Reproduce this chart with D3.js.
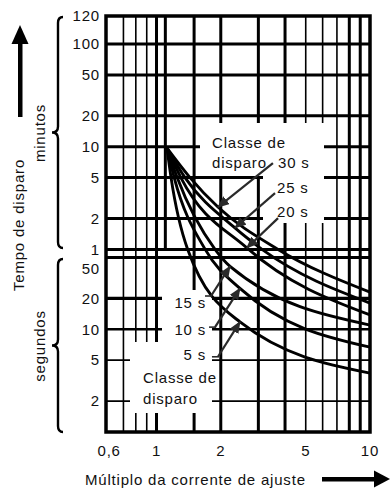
<!DOCTYPE html>
<html>
<head>
<meta charset="utf-8">
<script src="https://cdn.jsdelivr.net/npm/d3@7"></script>
<style>
  body { margin: 0; background: #fff; }
  svg text { font-family: "Liberation Sans", Arial, sans-serif; font-size: 15px; letter-spacing: 0.8px; fill: #111; }
</style>
</head>
<body>
<svg id="chart" width="390" height="492"></svg>
<script>
// grid positions (multiple of the setting current)
var xGridThin = [0.7, 0.8, 0.9, 5, 6, 7];
var xGridThick = [1, 1.5, 2, 3, 4, 8, 9];
var xGridMinutesOnly = [1.1];
var xTickLabels = [0.6, 1, 2, 5, 10];
// time ticks
var minuteTicks = [100, 50, 20, 10, 5, 2, 1];
var secondTicks = [50, 20, 10, 5, 2];

// trip class curves: [multiple, trip time in seconds]
var classNames = ["30 s", "25 s", "20 s", "15 s", "10 s", "5 s"];
var class30 = [[1.12, 580], [1.435, 300], [1.94, 155], [3.71, 60], [10, 23]];
var class25 = [[1.12, 580], [1.36, 300], [2.33, 97], [3.12, 60], [10, 18]];
var class20 = [[1.12, 580], [1.30, 300], [2.65, 62], [10, 13.8]];
var class15 = [[1.12, 580], [1.25, 300], [1.88, 60], [2.21, 41], [10, 11]];
var class10 = [[1.12, 580], [1.21, 300], [1.69, 60], [2.46, 25], [10, 6.7]];
var class5 = [[1.12, 580], [1.17, 300], [1.40, 60], [2.46, 11.8], [10, 3.75]];
var curves = [class30, class25, class20, class15, class10, class5];

// where each label arrow starts (same units as the curves); tip is a curve point
var arrowTails = [[3.51, 416], [3.59, 212], [3.71, 121], [1.80, 21.1], [1.88, 10.5], [1.94, 5.4]];
var arrowTips = [class30[2], class25[2], class20[2], class15[3], class10[3], class5[3]];

(function() {
  var svg = d3.select("#chart");
  var left = 106, right = 370, bottom = 432, plotTop = 16;

  var x = d3.scaleLog().domain([0.58, 10]).range([left, right]);
  var y = d3.scaleLog().domain([1, 6000]).range([bottom, 44]);

  var grid = svg.append("g");

  // vertical grid
  grid.selectAll("line.vthin").data(xGridThin).enter().append("line")
      .attr("x1", d => x(d)).attr("x2", d => x(d))
      .attr("y1", plotTop).attr("y2", bottom)
      .attr("stroke", "#000").attr("stroke-width", 1.6);
  grid.selectAll("line.vthick").data(xGridThick).enter().append("line")
      .attr("x1", d => x(d)).attr("x2", d => x(d))
      .attr("y1", plotTop).attr("y2", bottom)
      .attr("stroke", "#000").attr("stroke-width", 3);
  grid.selectAll("line.vmin").data(xGridMinutesOnly).enter().append("line")
      .attr("x1", d => x(d)).attr("x2", d => x(d))
      .attr("y1", plotTop).attr("y2", y(60))
      .attr("stroke", "#000").attr("stroke-width", 3);

  // horizontal grid
  grid.selectAll("line.hmin").data(minuteTicks).enter().append("line")
      .attr("x1", left).attr("x2", right)
      .attr("y1", d => y(d * 60)).attr("y2", d => y(d * 60))
      .attr("stroke", "#000").attr("stroke-width", 3);
  grid.selectAll("line.hsec").data(secondTicks).enter().append("line")
      .attr("x1", left).attr("x2", right)
      .attr("y1", d => y(d)).attr("y2", d => y(d))
      .attr("stroke", "#000")
      .attr("stroke-width", d => d >= 20 ? 3.2 : (d == 10 ? 2.4 : 1.8));

  // white areas that hold the class labels
  var boxes = [
    [[200, 123], [324, 123], [324, 223], [263, 223], [263, 176], [200, 176]],
    [[130, 342], [162, 342], [162, 290], [212, 290], [212, 413], [130, 413]]
  ];
  svg.selectAll("polygon.box").data(boxes).enter().append("polygon")
      .attr("points", d => d.join(" "))
      .attr("fill", "#fff");

  // frame
  svg.append("rect")
      .attr("x", left).attr("y", plotTop)
      .attr("width", right - left).attr("height", bottom - plotTop)
      .attr("fill", "none").attr("stroke", "#000").attr("stroke-width", 3.5);

  // curves
  var line = d3.line()
      .x(d => x(d[0])).y(d => y(d[1]))
      .curve(d3.curveMonotoneX);
  svg.selectAll("path.trip").data(curves).enter().append("path")
      .attr("d", line)
      .attr("fill", "none").attr("stroke", "#000").attr("stroke-width", 2.9);

  // label arrows
  svg.append("defs").append("marker")
      .attr("id", "head").attr("markerUnits", "userSpaceOnUse")
      .attr("markerWidth", 12).attr("markerHeight", 10)
      .attr("refX", 11).attr("refY", 5).attr("orient", "auto")
    .append("path").attr("d", "M0,0L12,5L0,10Z").attr("fill", "#2a2a2a");

  svg.selectAll("line.arrow").data(arrowTails).enter().append("line")
      .attr("x1", d => x(d[0])).attr("y1", d => y(d[1]))
      .attr("x2", (d, i) => x(arrowTips[i][0])).attr("y2", (d, i) => y(arrowTips[i][1]))
      .attr("stroke", "#2a2a2a").attr("stroke-width", 2.2)
      .attr("marker-end", "url(#head)");
  // little foot under the lower arrows
  svg.selectAll("line.foot").data(arrowTails.slice(3)).enter().append("line")
      .attr("x1", d => x(d[0]) - 6).attr("x2", d => x(d[0]) + 1)
      .attr("y1", d => y(d[1])).attr("y2", d => y(d[1]))
      .attr("stroke", "#2a2a2a").attr("stroke-width", 1.6);

  // class labels
  svg.append("text").attr("x", 212).attr("y", 148).text("Classe de");
  svg.append("text").attr("x", 212).attr("y", 168).text("disparo");
  svg.append("text").attr("x", 143).attr("y", 383).text("Classe de");
  svg.append("text").attr("x", 143).attr("y", 404).text("disparo");
  var labelPos = [[278, 168, "start"], [277, 193, "start"], [277, 217, "start"],
                  [206, 308, "end"], [206, 335, "end"], [206, 360, "end"]];
  svg.selectAll("text.cls").data(classNames).enter().append("text")
      .attr("x", (d, i) => labelPos[i][0]).attr("y", (d, i) => labelPos[i][1])
      .attr("text-anchor", (d, i) => labelPos[i][2])
      .text(d => d);

  // y tick labels
  svg.append("text").attr("x", 100).attr("y", plotTop).attr("dy", "0.35em")
      .attr("text-anchor", "end").text("120");
  svg.selectAll("text.tmin").data(minuteTicks).enter().append("text")
      .attr("x", 100).attr("y", d => y(d * 60)).attr("dy", "0.35em")
      .attr("text-anchor", "end").text(d => d);
  svg.selectAll("text.tsec").data(secondTicks).enter().append("text")
      .attr("x", 100).attr("y", d => y(d) + (d == 50 ? 11 : 0)).attr("dy", "0.35em")
      .attr("text-anchor", "end").text(d => d);

  // x tick labels
  svg.selectAll("text.tx").data(xTickLabels).enter().append("text")
      .attr("x", d => x(d)).attr("y", 456)
      .attr("text-anchor", "middle")
      .text(d => String(d).replace(".", ","));

  // axis titles
  svg.append("text").attr("x", 85).attr("y", 485).text("Múltiplo da corrente de ajuste");
  svg.append("text").attr("transform", "translate(19,225) rotate(-90)")
      .attr("text-anchor", "middle").attr("dy", "0.35em").text("Tempo de disparo");
  svg.append("text").attr("transform", "translate(40,133) rotate(-90)")
      .attr("text-anchor", "middle").attr("dy", "0.35em").text("minutos");
  svg.append("text").attr("transform", "translate(40,346) rotate(-90)")
      .attr("text-anchor", "middle").attr("dy", "0.35em").text("segundos");

  // braces
  function brace(x0, y0, y1, tip) {
    var m = (y0 + y1) / 2, r = 6;
    return "M" + (x0 + 5) + "," + y0 + "Q" + x0 + "," + y0 + " " + x0 + "," + (y0 + r) +
           "L" + x0 + "," + (m - r) + "Q" + x0 + "," + m + " " + tip + "," + m +
           "Q" + x0 + "," + m + " " + x0 + "," + (m + r) +
           "L" + x0 + "," + (y1 - r) + "Q" + x0 + "," + y1 + " " + (x0 + 5) + "," + y1;
  }
  svg.append("path").attr("d", brace(58, 17, 248, 52))
      .attr("fill", "none").attr("stroke", "#000").attr("stroke-width", 2.4);
  svg.append("path").attr("d", brace(58, 259, 432, 52))
      .attr("fill", "none").attr("stroke", "#000").attr("stroke-width", 2.4);

  // big arrows
  svg.append("rect").attr("x", 18).attr("y", 40).attr("width", 4.5).attr("height", 77).attr("fill", "#000");
  svg.append("path").attr("d", "M20,25L28.5,44L11.5,44Z").attr("fill", "#000");
  svg.append("rect").attr("x", 322).attr("y", 477).attr("width", 55).attr("height", 4.5).attr("fill", "#000");
  svg.append("path").attr("d", "M390,479L374,470.5L374,487.5Z").attr("fill", "#000");
})();
</script>
</body>
</html>
